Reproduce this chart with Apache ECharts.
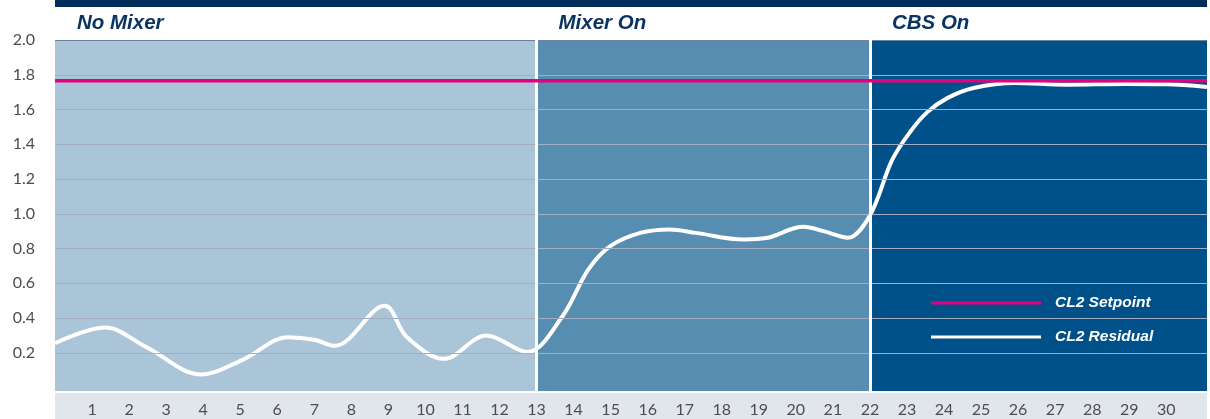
<!DOCTYPE html>
<html>
<head>
<meta charset="utf-8">
<script src="https://cdn.jsdelivr.net/npm/echarts@6/dist/echarts.min.js"></script>
<style>
html,body{margin:0;padding:0;background:#fff;}
#chart{width:1210px;height:419px;}
</style>
</head>
<body>
<div id="chart"></div>
<script>
// ---- data ----
const xTickLabels = [1,2,3,4,5,6,7,8,9,10,11,12,13,14,15,16,17,18,19,20,21,22,23,24,25,26,27,28,29,30];
const yTickLabels = [0.2,0.4,0.6,0.8,1.0,1.2,1.4,1.6,1.8,2.0];
const phaseNames = ['No Mixer','Mixer On','CBS On'];
const phaseStart = [0, 13, 22];
const phaseEnd = [13, 22, 31.1];
const phaseBoundaries = [13, 22];
const setpointValue = 1.765;
const residualX = [0, 1.35, 2.45, 3.95, 5.05, 6.3, 7.0, 7.55, 8.9, 9.5, 10.5, 11.65, 12.75, 13.7, 14.4, 15.0, 15.8, 16.6, 17.3, 18.6, 19.2, 20.2, 20.75, 21.4, 22.0, 22.6, 23.1, 23.55, 24.1, 24.8, 25.9, 27.3, 28.9, 30.0, 31.1];
const residualY = [0.255, 0.345, 0.235, 0.075, 0.158, 0.29, 0.275, 0.24, 0.47, 0.29, 0.165, 0.30, 0.205, 0.41, 0.68, 0.815, 0.89, 0.91, 0.89, 0.852, 0.86, 0.925, 0.90, 0.862, 0.99, 1.31, 1.475, 1.585, 1.667, 1.724, 1.753, 1.743, 1.747, 1.745, 1.73];

const X_MIN = 0, X_MAX = 31.1, Y_MIN = -0.02, Y_MAX = 2.0;
const phaseColors = ['#aac5d8', '#578db1', '#00518a'];

const chart = echarts.init(document.getElementById('chart'), null, {renderer: 'canvas'});

const areaData = phaseNames.map((n, i) => [
  {name: n, xAxis: phaseStart[i], yAxis: Y_MAX, itemStyle: {color: phaseColors[i]}},
  {xAxis: phaseEnd[i], yAxis: Y_MIN}
]);

const gridLineData = yTickLabels.map(v => ({
  yAxis: v,
  lineStyle: {color: v === 2.0 ? '#6b819f' : '#a3adc4', width: 1, type: 'solid'}
}));

const option = {
  animation: false,
  backgroundColor: '#ffffff',
  grid: {left: 55, right: 3, top: 40, bottom: 28, containLabel: false},
  graphic: [
    {type: 'rect', z: -1, shape: {x: 55, y: 0, width: 1152, height: 7}, style: {fill: '#012d5a'}},
    {type: 'rect', z: -1, shape: {x: 55, y: 393, width: 1152, height: 26}, style: {fill: '#e1e6ed'}}
  ],
  xAxis: {
    type: 'value', min: X_MIN, max: X_MAX,
    axisLine: {show: false}, axisTick: {show: false}, splitLine: {show: false},
    axisLabel: {
      customValues: xTickLabels,
      color: '#4d4d4d', fontFamily: 'Lato', fontSize: 16, margin: 11
    }
  },
  yAxis: {
    type: 'value', min: Y_MIN, max: Y_MAX,
    axisLine: {show: false}, axisTick: {show: false}, splitLine: {show: false},
    axisLabel: {
      customValues: yTickLabels,
      formatter: v => v.toFixed(1),
      color: '#4d4d4d', fontFamily: 'Lato', fontSize: 16, margin: 20
    }
  },
  legend: {
    data: ['CL2 Setpoint', 'CL2 Residual'],
    orient: 'vertical',
    left: 931, top: 295, padding: 0,
    icon: 'rect', itemWidth: 110, itemHeight: 3, itemGap: 18,
    textStyle: {
      color: '#ffffff', fontFamily: 'Liberation Sans', fontWeight: 'bold', fontStyle: 'italic',
      fontSize: 15.5, lineHeight: 15, padding: [0, 0, 0, 9]
    },
    selectedMode: false
  },
  series: [
    {
      name: 'phases', type: 'line', data: [], z: 1, silent: true,
      markArea: {
        silent: true,
        label: {
          show: true, position: [22, -17], verticalAlign: 'middle', align: 'left',
          color: '#0b3462', fontFamily: 'Liberation Sans', fontWeight: 'bold', fontStyle: 'italic', fontSize: 20.5
        },
        data: areaData
      }
    },
    {
      name: 'grid', type: 'line', data: [], z: 2, silent: true,
      markLine: {silent: true, symbol: 'none', label: {show: false}, data: gridLineData}
    },
    {
      name: 'bounds', type: 'line', data: [], z: 3, silent: true,
      markLine: {
        silent: true, symbol: 'none', label: {show: false},
        lineStyle: {color: '#ffffff', width: 3, type: 'solid'},
        data: phaseBoundaries.map(b => ({xAxis: b}))
      }
    },
    {
      name: 'CL2 Setpoint', type: 'line', z: 5, symbol: 'none',
      data: [[X_MIN, setpointValue], [X_MAX, setpointValue]],
      itemStyle: {color: '#e6007e'},
      lineStyle: {color: '#e6007e', width: 3.5}
    },
    {
      name: 'CL2 Residual', type: 'line', z: 4, symbol: 'none', smooth: 0.35,
      data: residualX.map((x, i) => [x, residualY[i]]),
      itemStyle: {color: '#ffffff'},
      lineStyle: {color: '#ffffff', width: 4}
    }
  ]
};
chart.setOption(option);
</script>
</body>
</html>
